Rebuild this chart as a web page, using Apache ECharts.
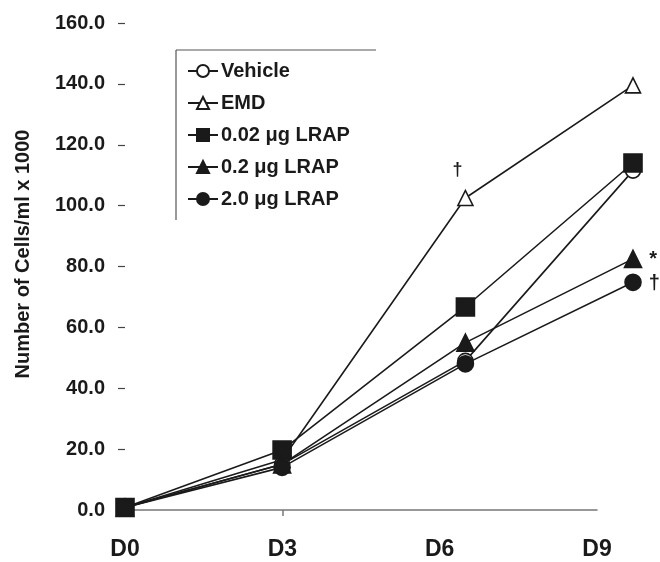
<!DOCTYPE html>
<html>
<head>
<meta charset="utf-8">
<script src="https://cdn.jsdelivr.net/npm/echarts@6/dist/echarts.min.js"></script>
<style>html,body{margin:0;padding:0;background:#fff}#c{width:660px;height:562px}</style>
</head>
<body>
<div id="c"></div>
<script>
// Tick labels of the x axis (day), and where they sit on the value axis
var dayLabels = ['D0', 'D3', 'D6', 'D9'];
var dayTicks = [0, 3, 6, 9];
// x position of the plotted points (points at D6/D9 sit right of their labels)
var pointX = [0, 3, 6.5, 9.7];
var pointXMax = 9.7;

var seriesNames = ['Vehicle', 'EMD', '0.02 \u03bcg LRAP', '0.2 \u03bcg LRAP', '2.0 \u03bcg LRAP'];
var vehicle   = [0.8, 15.0, 49.0, 111.5];
var emd       = [0.8, 16.5, 102.5, 139.5];
var lrap002   = [0.8, 19.7, 66.7, 114.0];
var lrap02    = [0.8, 15.0, 55.0, 82.5];
var lrap20    = [0.8, 14.0, 48.0, 74.8];

var yMin = 0, yMax = 160, yStep = 20;

// significance marks: series index, point index, text
var marks = [
  {s: 1, i: 2, t: '\u2020'},
  {s: 3, i: 3, t: '*'},
  {s: 4, i: 3, t: '\u2020'}
];

var ink = '#1a1a1a';
var font = '"Liberation Sans", Arial, sans-serif';

var symbolDefs = [
  {symbol: 'circle', size: 15, fill: '#fff'},
  {symbol: 'triangle', size: 15, fill: '#fff'},
  {symbol: 'rect', size: 18, fill: ink},
  {symbol: 'triangle', size: 17, fill: ink},
  {symbol: 'circle', size: 16, fill: ink}
];
var labelStyles = [
  null,
  {position: 'top', offset: [-8, -6], fontSize: 18},
  {position: 'right', offset: [2, -12], fontSize: 16},
  {position: 'right', offset: [2, 1], fontSize: 20},
  {position: 'right', offset: [2, 1], fontSize: 20}
];

var values = [vehicle, emd, lrap002, lrap02, lrap20];
var series = values.map(function (vals, s) {
  var def = symbolDefs[s];
  return {
    name: seriesNames[s],
    type: 'line',
    xAxisIndex: 1,
    yAxisIndex: 1,
    clip: false,
    symbol: def.symbol,
    symbolSize: def.size,
    z: 2 + s,
    lineStyle: {color: ink, width: 1.6},
    itemStyle: {color: def.fill, borderColor: ink, borderWidth: 1.6},
    data: vals.map(function (v, i) {
      var item = {value: [pointX[i], v]};
      marks.forEach(function (m) {
        if (m.s === s && m.i === i) {
          var ls = labelStyles[s];
          item.label = {show: true, formatter: m.t, position: ls.position, offset: ls.offset,
            color: ink, fontSize: ls.fontSize, fontWeight: 'bold', fontFamily: font};
        }
      });
      return item;
    })
  };
});

var chart = echarts.init(document.getElementById('c'), null, {renderer: 'canvas'});
chart.setOption({
  backgroundColor: '#fff',
  animation: false,
  grid: [
    {left: 125, right: 63, top: 23, bottom: 52},
    {left: 125, right: 27, top: 23, bottom: 52}
  ],
  xAxis: [{
    gridIndex: 0,
    type: 'value', min: 0, max: 9, interval: 3,
    splitLine: {show: false},
    axisLine: {show: true, lineStyle: {color: '#777', width: 1.5}},
    axisTick: {show: true, customValues: [3], length: 6, lineStyle: {color: '#777', width: 1.5}},
    axisLabel: {
      customValues: dayTicks,
      formatter: function (v) { return dayLabels[dayTicks.indexOf(v)]; },
      color: ink, fontSize: 23, fontWeight: 'bold', fontFamily: font, margin: 28
    }
  }, {
    gridIndex: 1,
    type: 'value', min: 0, max: pointXMax, show: false, splitLine: {show: false}
  }],
  yAxis: [{
    gridIndex: 0,
    type: 'value', min: yMin, max: yMax, interval: yStep,
    splitLine: {show: false},
    axisLine: {show: false},
    axisTick: {show: true, length: 7, lineStyle: {color: '#444', width: 1.2}},
    axisLabel: {
      formatter: function (v) { return v.toFixed(1); },
      color: ink, fontSize: 20, fontWeight: 'bold', fontFamily: font, margin: 20
    }
  }, {
    gridIndex: 1,
    type: 'value', min: yMin, max: yMax, show: false, splitLine: {show: false}
  }],
  legend: {
    orient: 'vertical',
    left: 182, top: 56,
    itemWidth: 30, itemHeight: 15, itemGap: 12,
    data: seriesNames,
    textStyle: {color: ink, fontSize: 20, fontWeight: 'bold', fontFamily: font, lineHeight: 20, padding: [0, 0, 0, -2]}
  },
  graphic: [
    {type: 'line', shape: {x1: 176, y1: 50, x2: 376, y2: 50}, style: {stroke: '#555', lineWidth: 1.2}},
    {type: 'line', shape: {x1: 176, y1: 50, x2: 176, y2: 220}, style: {stroke: '#555', lineWidth: 1.2}},
    {type: 'text', x: 23, y: 254, rotation: Math.PI / 2,
      style: {text: 'Number of Cells/ml x 1000', fill: ink, fontSize: 20, fontWeight: 'bold', fontFamily: font,
        textAlign: 'center', textVerticalAlign: 'middle'}}
  ],
  series: series
});
</script>
</body>
</html>
